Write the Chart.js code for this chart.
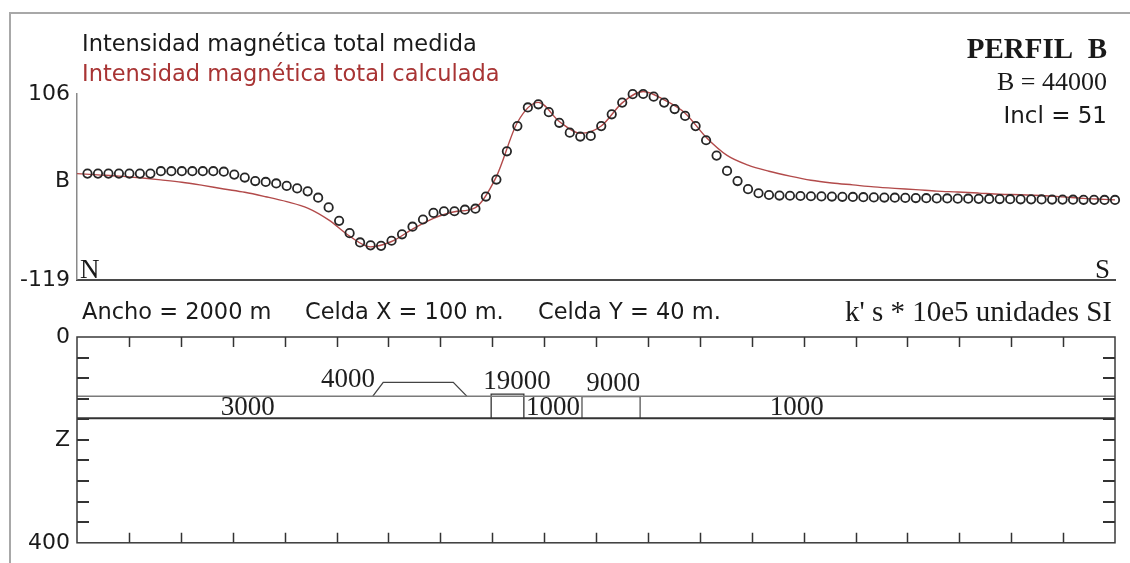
<!DOCTYPE html>
<html>
<head>
<meta charset="utf-8">
<script src="https://cdn.jsdelivr.net/npm/chart.js@4.4.1/dist/chart.umd.min.js"></script>
<style>
html,body{margin:0;padding:0;background:#fff;}
#wrap{position:relative;width:1130px;height:563px;overflow:hidden;background:#fff;}
canvas{position:absolute;left:0;}
.t{position:absolute;white-space:nowrap;line-height:1;color:#1a1a1a;z-index:5;}
.sans{font-family:'DejaVu Sans',Verdana,sans-serif;font-size:22.5px;}
.serif{font-family:'Liberation Serif','Times New Roman',serif;}
#frameTop{position:absolute;left:10px;top:12px;width:1120px;height:0;border-top:2px solid #a8a8a8;}
#frameLeft{position:absolute;left:9px;top:12px;width:0;height:551px;border-left:2px solid #a8a8a8;}
</style>
</head>
<body>
<div id="wrap">
  <div id="frameTop"></div>
  <div id="frameLeft"></div>
  <canvas id="top" width="1130" height="300" style="top:0"></canvas>
  <canvas id="bottom" width="1130" height="263" style="top:300px"></canvas>

  <div class="t sans" style="left:82px;top:32px;">Intensidad magnética total medida</div>
  <div class="t sans" style="left:82px;top:62px;color:#a83434;">Intensidad magnética total calculada</div>
  <div class="t serif" style="right:23px;top:34px;font-size:29px;font-weight:bold;">PERFIL&nbsp; B</div>
  <div class="t serif" style="right:23px;top:69px;font-size:26px;">B = 44000</div>
  <div class="t sans" style="right:23px;top:104px;font-size:23px;">Incl = 51</div>
  <div class="t serif" style="left:80px;top:256px;font-size:27px;">N</div>
  <div class="t serif" style="right:20px;top:256px;font-size:27px;">S</div>

  <div class="t sans" style="left:82px;top:300px;">Ancho = 2000 m</div>
  <div class="t sans" style="left:305px;top:300px;">Celda X = 100 m.</div>
  <div class="t sans" style="left:538px;top:300px;">Celda Y = 40 m.</div>
  <div class="t serif" style="right:18px;top:297px;font-size:29px;">k' s * 10e5 unidades SI</div>
</div>

<script>
// ---------- Top panel data (distance in m, anomaly relative to B) ----------
const measuredX = [20,40,60,80,100,120,140,160,180,200,220,240,260,280,300,320,340,360,380,400,
  420,440,460,480,500,520,540,560,580,600,620,640,660,680,700,720,740,760,780,800,
  820,840,860,880,900,920,940,960,980,1000,1020,1040,1060,1080,1100,1120,1140,1160,1180,1200,
  1220,1240,1260,1280,1300,1320,1340,1360,1380,1400,1420,1440,1460,1480,1500,1520,1540,1560,1580,1600,
  1620,1640,1660,1680,1700,1720,1740,1760,1780,1800,1820,1840,1860,1880,1900,1920,1940,1960,1980];
const measured = [9.6,9.6,9.6,9.6,9.6,9.6,9.6,
  12.5,12.5,12.5,12.5,12.5,12.5,
  11.9,8.4,4.8,0.6,-0.5,-2.3,-5.3,-8.3,-11.9,-19.6,
  -31.3,-47.6,-62.5,-73.8,-77.3,-77.9,-71.7,-63.9,-54.7,-46,
  -38,-36,-36,-34.1,-32.9,-18.2,2.4,36.6,67.1,89.7,
  93.5,84,71.1,59.2,54.5,55.2,67.1,81.4,95.6,105.8,
  106,102.8,95.6,87.8,79.5,67.1,50,31.4,12.9,0.6,
  -9.2,-14.2,-16.3,-17,
  -17.2,-17.5,-17.8,-18,-18.2,-18.5,-18.7,-19,-19.2,-19.4,
  -19.6,-19.8,-20,-20.2,-20.4,-20.5,-20.7,-20.8,-21,-21.1,
  -21.2,-21.4,-21.5,-21.6,-21.7,-21.8,-21.9,-22,-22.1,-22.2,
  -22.3,-22.3];
const calcX = [0,40,80,120,160,200,240,280,320,360,400,440,480,520,560,600,640,680,720,760,
  800,840,880,920,960,1000,1040,1080,1120,1160,1200,1240,1280,1320,1360,1400,1440,1480,1520,1560,
  1600,1640,1680,1720,1760,1800,1840,1880,1920,1960,1980];
const calculated = [9.6,8.1,6.6,4.5,2.0,-0.8,-4.7,-9,-13,-18.4,
  -24.4,-32.1,-46.4,-66.1,-79.1,-72.6,-57.7,-44.6,-36.6,-31.5,
  6,71.5,95.9,72.7,58.4,67.3,95.3,109,98.9,82.8,
  53.6,31.6,19.9,12.5,6.6,1.6,-1.7,-4.1,-6.5,-8.3,
  -9.8,-11.6,-12.7,-14,-15.4,-16,-17,-18.6,-20.4,-21.6,
  -22.2];
const topTickValues = [-119, 0, 106];
const topTickLabels = ['-119', 'B', '106'];

// ---------- Bottom panel data (distance m, depth m, susceptibility) ----------
const layerTopX = [0, 2000],        layerTopZ = [115, 115];
const layerBaseX = [0, 2000],       layerBaseZ = [158, 158];
const body4000X = [570, 590, 725, 751],   body4000Z = [115, 88, 88, 115];
const body19000X = [798, 798, 861, 861],  body19000Z = [158, 111, 111, 158];
const body9000X = [973, 973, 1085, 1085], body9000Z = [158, 116, 116, 158];
const susLabels = ['3000', '4000', '19000', '1000', '9000', '1000'];
const susLabelX = [329, 522, 848, 917, 1033, 1387];
const susLabelZ = [137, 84, 88, 137, 92, 137];
const distTicks = [100,200,300,400,500,600,700,800,900,1000,1100,1200,1300,1400,1500,1600,1700,1800,1900];
const depthTicks = [40,80,120,160,200,240,280,320,360];
const bottomTickValues = [0, 200, 400];
const bottomTickLabels = ['0', 'Z', '400'];

const pts = (xs, ys) => xs.map((x, i) => ({x: x, y: ys[i]}));
const sansFont = {family: "'DejaVu Sans', Verdana, sans-serif", size: 22};

new Chart(document.getElementById('top'), {
  type: 'line',
  data: {
    datasets: [
      {
        label: 'Intensidad magnética total medida',
        data: pts(measuredX, measured),
        showLine: false,
        pointStyle: 'circle',
        pointRadius: 4.2,
        pointBorderWidth: 1.8,
        pointBorderColor: '#262626',
        pointBackgroundColor: 'rgba(255,255,255,0)',
        clip: false,
        order: 0
      },
      {
        label: 'Intensidad magnética total calculada',
        data: pts(calcX, calculated),
        borderColor: '#b24a4a',
        borderWidth: 1.4,
        pointRadius: 0,
        fill: false,
        cubicInterpolationMode: 'monotone',
        clip: false,
        order: 1
      }
    ]
  },
  options: {
    responsive: false,
    animation: false,
    events: [],
    devicePixelRatio: 1,
    layout: {padding: {left: 0, top: 94, right: 15, bottom: 0}},
    plugins: {legend: {display: false}, tooltip: {enabled: false}},
    scales: {
      x: {
        type: 'linear', min: 0, max: 1980,
        grid: {display: false},
        ticks: {display: false},
        border: {display: true, color: '#4a4a4a', width: 2},
        afterFit: s => { s.height = 17; }
      },
      y: {
        type: 'linear', min: -119, max: 106,
        grid: {display: false, drawTicks: false},
        border: {display: true, color: '#8a8a8a', width: 1.5},
        afterBuildTicks: s => { s.ticks = topTickValues.map(v => ({value: v})); },
        ticks: {
          font: sansFont, color: '#1a1a1a', padding: 7,
          callback: v => topTickLabels[topTickValues.indexOf(v)]
        },
        afterFit: s => { s.width = 77; }
      }
    }
  }
});

const panelPlugin = {
  id: 'panel',
  afterDraw(chart) {
    const {ctx, chartArea: a, scales: {x, y}} = chart;
    ctx.save();
    ctx.strokeStyle = '#333';
    ctx.lineWidth = 1.5;
    distTicks.forEach(d => {
      const px = Math.round(x.getPixelForValue(d)) + 0.5;
      ctx.beginPath();
      ctx.moveTo(px, a.top); ctx.lineTo(px, a.top + 10);
      ctx.moveTo(px, a.bottom); ctx.lineTo(px, a.bottom - 10);
      ctx.stroke();
    });
    ctx.lineWidth = 2;
    depthTicks.forEach(z => {
      const py = Math.round(y.getPixelForValue(z));
      ctx.beginPath();
      ctx.moveTo(a.left, py); ctx.lineTo(a.left + 12, py);
      ctx.moveTo(a.right, py); ctx.lineTo(a.right - 12, py);
      ctx.stroke();
    });
    ctx.lineWidth = 1.5;
    ctx.strokeStyle = '#3a3a3a';
    ctx.strokeRect(a.left, a.top, a.right - a.left, a.bottom - a.top);
    ctx.fillStyle = '#1e1e1e';
    ctx.font = "27px 'Liberation Serif', 'Times New Roman', serif";
    ctx.textAlign = 'center';
    ctx.textBaseline = 'middle';
    susLabels.forEach((t, i) => {
      ctx.fillText(t, x.getPixelForValue(susLabelX[i]), y.getPixelForValue(susLabelZ[i]));
    });
    ctx.restore();
  }
};

const lineDs = (xs, zs, color, w) => ({
  data: pts(xs, zs), borderColor: color, borderWidth: w, pointRadius: 0,
  showLine: true, fill: false, tension: 0, clip: false
});

new Chart(document.getElementById('bottom'), {
  type: 'line',
  data: {
    datasets: [
      lineDs(layerTopX, layerTopZ, '#7a7a7a', 1.5),
      lineDs(layerBaseX, layerBaseZ, '#333', 2),
      lineDs(body4000X, body4000Z, '#444', 1.3),
      lineDs(body19000X, body19000Z, '#333', 1.3),
      lineDs(body9000X, body9000Z, '#555', 1.3)
    ]
  },
  options: {
    responsive: false,
    animation: false,
    events: [],
    devicePixelRatio: 1,
    layout: {padding: {left: 0, top: 37, right: 15, bottom: 0}},
    plugins: {legend: {display: false}, tooltip: {enabled: false}},
    scales: {
      x: {
        type: 'linear', min: 0, max: 2000,
        grid: {display: false}, ticks: {display: false},
        border: {display: false},
        afterFit: s => { s.height = 17; }
      },
      y: {
        type: 'linear', min: 0, max: 400, reverse: true,
        grid: {display: false, drawTicks: false},
        border: {display: false},
        afterBuildTicks: s => { s.ticks = bottomTickValues.map(v => ({value: v})); },
        ticks: {
          font: sansFont, color: '#1a1a1a', padding: 7,
          callback: v => bottomTickLabels[bottomTickValues.indexOf(v)]
        },
        afterFit: s => { s.width = 77; }
      }
    }
  },
  plugins: [panelPlugin]
});
</script>
</body>
</html>
